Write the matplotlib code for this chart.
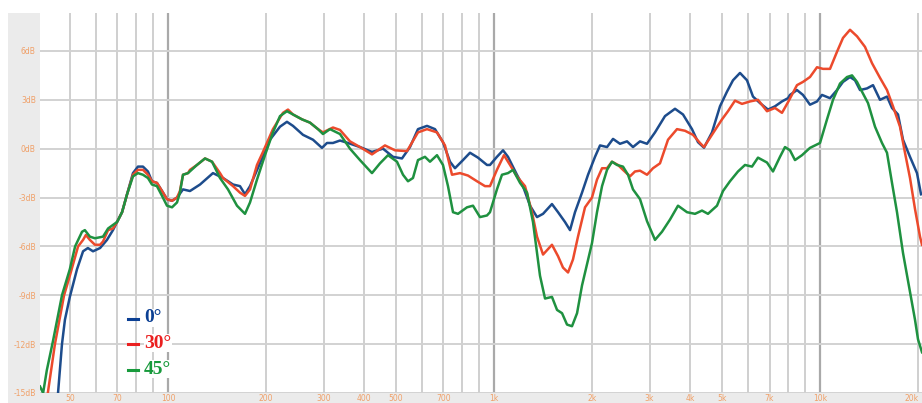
import matplotlib
matplotlib.use("Agg")
import matplotlib.pyplot as plt
from matplotlib.patches import Rectangle
from matplotlib.lines import Line2D

# ---------------- data ----------------
freq_0 = [46.0, 47.3, 48.3, 50.0, 52.6, 54.9, 56.8, 58.9, 61.9, 65.0, 67.8, 69.8, 72.3, 74.9, 78.1,
          80.9, 83.8, 86.8, 89.3, 92.5, 95.9, 99.3, 102.9, 106.6, 111.2, 116.8, 125.4, 137.4, 147.5,
          158.3, 166.3, 172.3, 178.5, 191.5, 205.5, 220.6, 231.7, 241.8, 259.5, 278.5, 296.7, 307.4,
          320.7, 337.0, 356.6, 388.1, 422.4, 456.6, 490.0, 522.2, 552.5, 584.6, 623.0, 659.2, 697.5,
          732.9, 759.2, 803.4, 844.1, 893.1, 951.7, 972.1, 1021, 1066, 1104, 1176, 1227, 1290, 1355,
          1414, 1506, 1572, 1651, 1711, 1772, 1862, 1943, 2041, 2115, 2222, 2318, 2435, 2559, 2669,
          2805, 2947, 3118, 3346, 3591, 3800, 4049, 4224, 4407, 4663, 4934, 5184, 5409, 5683, 5971,
          6229, 6545, 6926, 7276, 7645, 7976, 8090, 8499, 8867, 9317, 9791, 10142, 10732, 11276,
          11764, 12361, 12805, 13265, 13937, 14540, 15276, 16050, 16628, 17348, 17971, 18882,
          19838, 20407]
db_0 = [-15.0, -12.0, -10.5, -9.1, -7.4, -6.3, -6.1, -6.3, -6.1, -5.6, -5.0, -4.5, -3.9, -2.8, -1.5,
        -1.1, -1.1, -1.4, -2.0, -2.1, -2.6, -3.1, -3.2, -3.0, -2.5, -2.6, -2.2, -1.5, -1.8,
        -2.2, -2.3, -2.8, -2.3, -0.9, 0.55, 1.35, 1.65, 1.4, 0.85, 0.55, 0.05, 0.35,
        0.35, 0.5, 0.35, 0.1, -0.2, 0.0, -0.5, -0.6, 0.1, 1.2, 1.4, 1.2, 0.4,
        -0.8, -1.2, -0.7, -0.25, -0.55, -1.0, -1.0, -0.5, -0.1, -0.5, -1.6, -2.3, -3.5, -4.2,
        -4.0, -3.4, -3.9, -4.5, -5.0, -3.9, -2.7, -1.6, -0.5, 0.2, 0.1, 0.6, 0.3, 0.45, 0.1,
        0.45, 0.3, 1.0, 2.0, 2.45, 2.1, 1.2, 0.4, 0.06, 1.0, 2.6, 3.5, 4.2, 4.65, 4.2,
        3.2, 2.8, 2.4, 2.6, 2.9, 3.1, 3.3, 3.6, 3.3, 2.7, 2.9, 3.3, 3.1, 3.6,
        4.1, 4.4, 4.2, 3.6, 3.7, 3.9, 3.0, 3.2, 2.5, 2.1, 0.55, -0.5,
        -1.5, -2.8]

freq_30 = [42.8, 45.0, 48.0, 50.0, 53.0, 54.9, 56.0, 57.6, 59.7, 61.9, 63.2, 65.5, 67.8, 69.8, 72.3,
           74.9, 78.1, 80.9, 83.8, 86.8, 89.3, 92.5, 95.9, 99.3, 102.9, 106.6, 108.8, 111.2, 115.2,
           116.8, 122.7, 129.9, 136.5, 144.4, 147.5, 158.3, 166.3, 172.3, 178.5, 187.5, 195.6, 209.9,
           225.3, 233.4, 241.8, 257.7, 272.6, 288.5, 298.8, 320.7, 337.0, 361.6, 388.1, 422.4, 463.1,
           497.0, 540.9, 584.6, 623.0, 668.6, 707.4, 743.3, 786.5, 832.2, 886.8, 938.4, 972.1, 1021,
           1073, 1120, 1176, 1245, 1308, 1355, 1414, 1506, 1572, 1628, 1687, 1747, 1810, 1902, 1998,
           2070, 2145, 2222, 2301, 2401, 2487, 2613, 2707, 2805, 2947, 3074, 3230, 3418, 3642, 3854,
           4078, 4284, 4407, 4663, 5005, 5221, 5486, 5764, 6099, 6453, 6877, 7276, 7645, 7976, 8499,
           8867, 9317, 9791, 10214, 10732, 11276, 11764, 12361, 12987, 13741, 14438, 15276, 16050,
           16746, 17595, 18227, 18882, 19560, 20263, 20552]
db_30 = [-15.0, -12.0, -9.0, -7.8, -6.0, -5.6, -5.3, -5.6, -5.9, -5.9, -5.7, -5.0, -4.9, -4.5, -3.9,
         -2.8, -1.6, -1.3, -1.3, -1.6, -2.0, -2.1, -2.6, -3.1, -3.2, -3.0, -2.6, -1.6, -1.5,
         -1.3, -1.0, -0.6, -0.8, -1.5, -1.8, -2.3, -2.7, -2.9, -2.5, -1.0, -0.2, 1.2,
         2.2, 2.4, 2.1, 1.8, 1.6, 1.2, 1.0, 1.3, 1.15, 0.45, 0.1, -0.35, 0.2,
         -0.1, -0.15, 1.0, 1.2, 1.0, 0.2, -1.6, -1.5, -1.65, -2.0, -2.3, -2.3, -1.3,
         -0.4, -1.0, -1.7, -2.3, -3.9, -5.4, -6.5, -5.9, -6.6, -7.3, -7.6, -6.8, -5.4, -3.6, -3.0,
         -1.9, -1.2, -1.2, -0.8, -1.0, -1.3, -1.7, -1.4, -1.35, -1.6, -1.2, -0.9, 0.55, 1.2, 1.1,
         0.85, 0.35, 0.1, 0.85, 1.8, 2.3, 2.95, 2.75, 2.9, 3.0, 2.3, 2.5, 2.2, 2.85, 3.9,
         4.1, 4.4, 5.0, 4.9, 4.9, 5.95, 6.8, 7.3, 6.9, 6.25, 5.25, 4.35, 3.6,
         2.6, 1.35, -0.25, -1.8, -3.7, -5.4, -5.9]

freq_45 = [40.5, 41.4, 42.5, 44.4, 47.3, 50.0, 51.9, 54.5, 55.6, 57.6, 59.7, 63.2, 65.5, 69.8, 72.3,
           74.9, 78.1, 80.9, 83.8, 86.8, 89.3, 92.5, 95.9, 99.3, 102.9, 106.6, 108.8, 111.2, 115.2,
           122.7, 129.9, 136.5, 144.4, 152.8, 162.8, 172.3, 178.5, 187.5, 198.4, 209.9, 220.6, 231.7,
           241.8, 257.7, 272.6, 288.5, 298.8, 314.0, 337.0, 361.6, 388.1, 422.4, 447.0, 473.0, 504.0,
           525.9, 544.8, 564.3, 584.6, 614.2, 636.3, 668.6, 697.5, 722.6, 748.6, 775.5, 826.4, 862.1,
           905.8, 951.7, 972.1, 1021, 1058, 1104, 1144, 1202, 1263, 1317, 1384, 1434, 1506, 1561,
           1617, 1675, 1735, 1798, 1862, 1929, 1998, 2070, 2145, 2222, 2301, 2384, 2487, 2577, 2669,
           2805, 2947, 3118, 3276, 3467, 3668, 3909, 4136, 4345, 4533, 4831, 5040, 5295, 5603, 5887,
           6186, 6453, 6877, 7174, 7538, 7809, 8090, 8380, 8805, 9317, 10000, 10507, 10962, 11518,
           12102, 12537, 12987, 13453, 14036, 14747, 15494, 16050, 16628, 17226, 17971, 18882,
           19560, 19979, 20552]
db_45 = [-14.6, -15.0, -13.6, -11.8, -9.0, -7.4, -6.0, -5.1, -5.0, -5.4, -5.5, -5.4, -4.9, -4.5, -3.9,
         -2.8, -1.7, -1.5, -1.6, -1.8, -2.2, -2.3, -2.9, -3.5, -3.6, -3.3, -2.7, -1.6, -1.5,
         -1.0, -0.6, -0.8, -1.8, -2.5, -3.5, -4.0, -3.3, -1.9, -0.4, 1.0, 2.0, 2.3,
         2.1, 1.8, 1.6, 1.2, 0.9, 1.2, 0.9, 0.0, -0.7, -1.5, -0.9, -0.4, -0.8,
         -1.6, -2.0, -1.8, -0.7, -0.5, -0.8, -0.4, -1.0, -2.3, -3.9, -4.0, -3.6, -3.5,
         -4.2, -4.1, -3.9, -2.5, -1.6, -1.5, -1.3, -2.1, -2.7, -4.5, -7.8, -9.2, -9.1, -9.9,
         -10.1, -10.8, -10.9, -10.1, -8.4, -7.1, -5.8, -3.9, -2.3, -1.3, -0.8, -1.0, -1.1, -1.6, -2.5,
         -3.1, -4.45, -5.6, -5.1, -4.35, -3.5, -3.9, -4.0, -3.8, -4.0, -3.5, -2.6, -2.0, -1.4, -1.0,
         -1.1, -0.55, -0.85, -1.4, -0.5, 0.1, -0.1, -0.7, -0.4, 0.05, 0.35, 1.8, 3.0, 4.0,
         4.4, 4.5, 4.1, 3.5, 2.8, 1.35, 0.35, -0.25, -2.1, -3.9, -6.4, -8.8,
         -10.5, -11.7, -12.5]

series_labels = ["0°", "30°", "45°"]

x_tick_values = [50, 70, 100, 200, 300, 400, 500, 700, 1000, 2000, 3000, 4000, 5000, 7000, 10000, 20000]
x_tick_labels = ["50", "70", "100", "200", "300", "400", "500", "700", "1k", "2k", "3k", "4k", "5k", "7k", "10k", "20k"]
y_tick_values = [6, 3, 0, -3, -6, -9, -12, -15]
y_tick_labels = ["6dB", "3dB", "0dB", "-3dB", "-6dB", "-9dB", "-12dB", "-15dB"]

# ---------------- styling ----------------
W, H = 922, 403
fig = plt.figure(figsize=(W / 100, H / 100), dpi=100)
fig.patch.set_facecolor("white")

band = "#ebebeb"
fig.patches.append(Rectangle((8 / W, 0), (40 - 8) / W, (H - 13) / H, transform=fig.transFigure,
                             facecolor=band, edgecolor="none", zorder=-10))
fig.patches.append(Rectangle((8 / W, 0), 1 - 8 / W, 10 / H, transform=fig.transFigure,
                             facecolor=band, edgecolor="none", zorder=-10))

ax = fig.add_axes([40 / W, 10 / H, (W - 40) / W, (H - 23) / H])
ax.set_xscale("log")
ax.set_xlim(40.5, 20552)
ax.set_ylim(-15, 8.33)
for s in ax.spines.values():
    s.set_visible(False)

# grid
grid_minor = [50, 60, 70, 80, 90, 200, 300, 400, 500, 600, 700, 800, 900,
              2000, 3000, 4000, 5000, 6000, 7000, 8000, 9000, 20000]
grid_major = [100, 1000, 10000]
for g in grid_minor:
    ax.axvline(g, color="#cfcfcf", lw=1.4, zorder=1)
for g in grid_major:
    ax.axvline(g, color="#a9a9a9", lw=1.6, zorder=1)
for g in y_tick_values:
    ax.axhline(g, color="#d2d2d2", lw=1.4, zorder=1)

c0, c30, c45 = "#1d4c8c", "#ec4a2c", "#1f9140"
ax.plot(freq_0, db_0, color=c0, lw=1.8, zorder=3, solid_joinstyle="round")
ax.plot(freq_30, db_30, color=c30, lw=1.8, zorder=4, solid_joinstyle="round")
ax.plot(freq_45, db_45, color=c45, lw=1.8, zorder=5, solid_joinstyle="round")

tick_color = "#f0a068"
ax.set_xticks(x_tick_values)
ax.set_xticklabels(x_tick_labels)
ax.xaxis.set_minor_locator(matplotlib.ticker.NullLocator())
ax.set_yticks(y_tick_values)
ax.set_yticklabels(y_tick_labels)
ax.tick_params(axis="both", length=0, labelsize=5.5, labelcolor=tick_color)
ax.tick_params(axis="x", pad=1)
ax.tick_params(axis="y", pad=3)
last = ax.get_xticklabels()[-1]
last.set_horizontalalignment("right")

# legend as coloured text with short dash markers
leg_colors = ["#0b3f93", "#ea2020", "#189a3c"]
leg_y = [318, 343, 369]
for lab, col, yy in zip(series_labels, leg_colors, leg_y):
    fig.lines.append(Line2D([128 / W, 138 / W], [1 - (yy + 1) / H, 1 - (yy + 1) / H],
                            transform=fig.transFigure, color=col, lw=2.2, zorder=6))
    fig.text(144 / W, 1 - yy / H, lab, color=col, fontsize=14, fontweight="bold",
             family=["Liberation Serif", "DejaVu Serif"], va="center", ha="left", zorder=6,
             bbox=dict(facecolor="white", edgecolor="none", pad=0.3))

fig.savefig("out.png", dpi=100, facecolor="white")
